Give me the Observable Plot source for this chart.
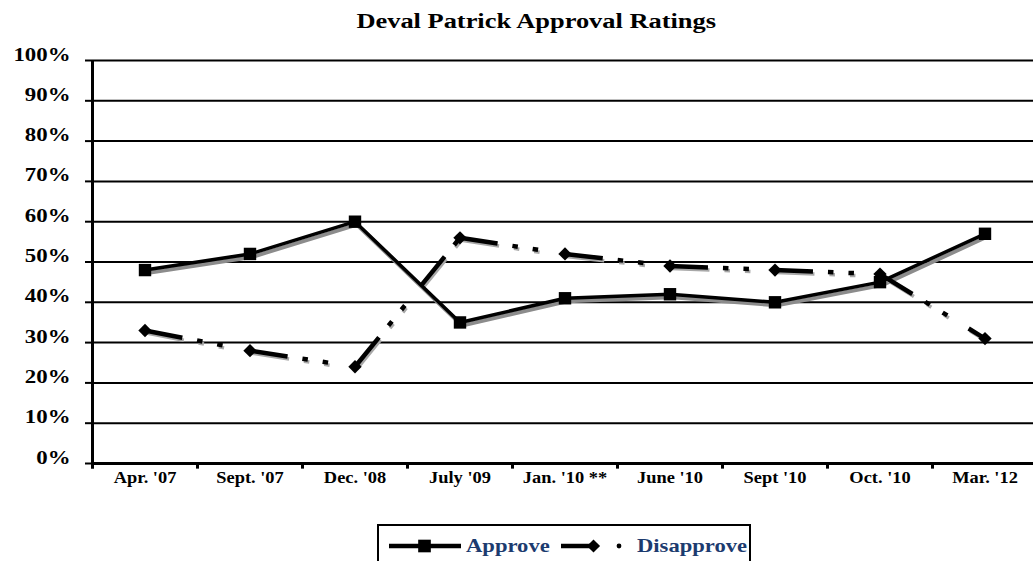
<!DOCTYPE html>
<html><head><meta charset="utf-8">
<script src="https://cdn.jsdelivr.net/npm/d3@7"></script>
<script src="https://cdn.jsdelivr.net/npm/@observablehq/plot@0.6"></script>
<style>
body{margin:0;background:#fff;width:1033px;height:561px;overflow:hidden;position:relative;font-family:"Liberation Serif","Times New Roman",serif;}
#title{position:absolute;top:11px;left:0;width:1072px;text-align:center;font-weight:bold;font-size:20px;line-height:20px;}
#title span{display:inline-block;transform:scaleX(1.32);}
#chart{position:absolute;top:45px;left:0;}
#legend{position:absolute;top:524px;left:377px;width:370px;height:60px;border:2.5px solid #000;}
#legend svg{position:absolute;left:0;top:0;overflow:visible;}
</style></head><body>
<div id="title"><span>Deval Patrick Approval Ratings</span></div>
<div id="chart"></div>
<div id="legend"></div>
<script>
const categories = ["Apr. '07", "Sept. '07", "Dec. '08", "July '09", "Jan. '10 **", "June '10", "Sept '10", "Oct. '10", "Mar. '12"];
const approve = [48, 52, 60, 35, 41, 42, 40, 45, 57];
const disapprove = [33, 28, 24, 56, 52, 49, 48, 47, 31];
const yTicks = [0, 10, 20, 30, 40, 50, 60, 70, 80, 90, 100];
const seriesNames = ["Approve", "Disapprove"];

const W = 1033, H = 455;
const xRange = [92, 1037];
const bw = (xRange[1] - xRange[0]) / categories.length;

const appr = categories.map((c, i) => ({cat: c, value: approve[i]}));
const dis = categories.map((c, i) => ({cat: c, value: disapprove[i]}));
const segs = [];
for (let i = 0; i < categories.length - 1; i++) {
  segs.push({seg: i, cat: categories[i], value: disapprove[i]});
  segs.push({seg: i, cat: categories[i + 1], value: disapprove[i + 1]});
}
const dash = "38 15 5.5 15 5.5 25";
const shadow = "#8c8c8c";

const chart = Plot.plot({
  width: W, height: H,
  marginTop: 15, marginBottom: 37, marginLeft: 92, marginRight: 0,
  x: {type: "band", domain: categories, range: xRange, padding: 0},
  y: {domain: [0, 100]},
  style: {fontFamily: "'Liberation Serif', 'Times New Roman', serif", background: "transparent", color: "#000"},
  marks: [
    Plot.ruleY(yTicks.filter(d => d > 0), {y: d => d, stroke: "#000", strokeWidth: 2}),
    Plot.ruleY([0], {y: d => d, stroke: "#000", strokeWidth: 3}),
    Plot.ruleX(categories, {x: d => d, dx: -bw / 2, y1: -1.4, y2: (d, i) => i === 0 ? 100 : 0, stroke: "#000", strokeWidth: 3}),
    Plot.axisY({ticks: yTicks, tickSize: 7, tickPadding: 15, strokeWidth: 2, tickFormat: d => d + "%", fontSize: 18, fontWeight: "bold", label: null}),
    Plot.axisX({tickSize: 0, tickPadding: 19, fontSize: 16, fontWeight: "bold", label: null}),
    Plot.line(appr, {x: "cat", y: "value", stroke: shadow, strokeWidth: 4, dx: 2, dy: 3}),
    Plot.line(segs, {x: "cat", y: "value", z: "seg", stroke: "#a8a8a8", strokeWidth: 3.5, strokeDasharray: dash, strokeLinecap: "butt", dx: 1.5, dy: 2.5}),
    Plot.line(appr, {x: "cat", y: "value", stroke: "#000", strokeWidth: 3.5}),
    Plot.line(segs, {x: "cat", y: "value", z: "seg", stroke: "#000", strokeWidth: 4.5, strokeDasharray: dash, strokeLinecap: "butt"}),
    Plot.dot(appr, {x: "cat", y: "value", symbol: "square", r: 7, fill: "#000", stroke: "none"}),
    Plot.dot(dis, {x: "cat", y: "value", symbol: "diamond2", r: 6, fill: "#000", stroke: "none"})
  ]
});

function stretch(svg, label, s) {
  svg.querySelectorAll(`g[aria-label="${label}"] text`).forEach(t => {
    const x = +t.getAttribute("x") || 0, y = +t.getAttribute("y") || 0;
    t.removeAttribute("x"); t.removeAttribute("y");
    const tr = t.getAttribute("transform") || "";
    t.setAttribute("transform", `${tr} translate(${x},${y}) scale(${s},1)`);
  });
}
stretch(chart, "y-axis tick label", 1.27);
stretch(chart, "x-axis tick label", 1.15);
document.getElementById("chart").appendChild(chart);

// legend
const lg = d3.select("#legend").append("svg").attr("width", 370).attr("height", 40);
const ly = 20, navy = "#1c3b6f";
lg.append("line").attr("x1", 10).attr("x2", 82).attr("y1", ly).attr("y2", ly).attr("stroke", "#000").attr("stroke-width", 4.5);
lg.append("path").attr("d", d3.symbol(d3.symbolSquare, 160)()).attr("transform", `translate(45.5,${ly})`).attr("fill", "#000");
lg.append("text").attr("transform", `translate(87,${ly + 6}) scale(1.19,1)`).attr("fill", navy).attr("font-size", 19).attr("font-weight", "bold").attr("font-family", "'Liberation Serif', serif").text(seriesNames[0]);
lg.append("line").attr("x1", 182).attr("x2", 213).attr("y1", ly).attr("y2", ly).attr("stroke", "#000").attr("stroke-width", 4.5);
lg.append("path").attr("d", d3.symbol(d3.symbolDiamond2, 110)()).attr("transform", `translate(214.5,${ly})`).attr("fill", "#000");
lg.append("circle").attr("cx", 240).attr("cy", ly).attr("r", 2.4).attr("fill", "#000");
lg.append("text").attr("transform", `translate(258,${ly + 6}) scale(1.19,1)`).attr("fill", navy).attr("font-size", 19).attr("font-weight", "bold").attr("font-family", "'Liberation Serif', serif").text(seriesNames[1]);
</script>
</body></html>
